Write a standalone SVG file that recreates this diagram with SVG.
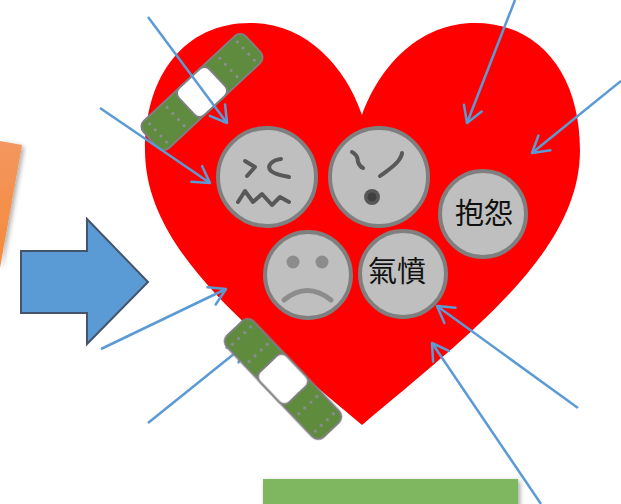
<svg xmlns="http://www.w3.org/2000/svg" width="621" height="504" viewBox="0 0 621 504">
  <style>
    .face { fill: #bfbfbf; stroke: #7f7f7f; stroke-width: 4; }
    .feat { fill: none; stroke: #595959; stroke-width: 4; stroke-linecap: round; stroke-linejoin: round; }
    .sad { fill: none; stroke: #8c8c8c; stroke-width: 5; stroke-linecap: round; }
    .label { font-family: "Noto Sans CJK TC", "Noto Sans CJK SC", sans-serif; font-size: 29px; fill: #111; text-anchor: middle; }
    .conn { fill: none; stroke: #5b9bd5; stroke-width: 2.5; marker-end: url(#vhead); }
    .band { fill: #5e8b3e; stroke: #7f7f7f; stroke-width: 2; }
    .pad { fill: #ffffff; stroke: #7f7f7f; stroke-width: 2; }
    .dot { fill: #8f8c9c; }
  </style>
  <defs>
    <marker id="vhead" markerUnits="userSpaceOnUse" orient="auto" refX="0" refY="0" markerWidth="40" markerHeight="40" viewBox="-20 -20 40 40" overflow="visible">
      <path d="M -16 -9.5 L 0 0 L -16 9.5" fill="none" stroke="#5b9bd5" stroke-width="2.5" stroke-linecap="round" stroke-linejoin="round"/>
    </marker>
    <filter id="soft" x="-10%" y="-10%" width="120%" height="120%">
      <feGaussianBlur stdDeviation="0.7"/>
    </filter>
    <filter id="shade" x="-20%" y="-20%" width="140%" height="160%">
      <feDropShadow dx="2" dy="2" stdDeviation="2.5" flood-color="#000" flood-opacity="0.35"/>
    </filter>
    <linearGradient id="orangeFill" x1="0" y1="0" x2="0" y2="1">
      <stop offset="0" stop-color="#f2975f"/>
      <stop offset="1" stop-color="#f7893a"/>
    </linearGradient>
    <!-- plaster: strip, central pad, two rows of dots on each side -->
    <g id="plaster">
      <rect class="band" x="-70" y="-18.5" width="140" height="37" rx="8"/>
      <rect class="pad" x="-21" y="-18.5" width="42" height="37" rx="7"/>
      <g class="dot">
        <circle cx="-60" cy="-12.5" r="1.5"/><circle cx="-60" cy="-4.2" r="1.5"/><circle cx="-60" cy="4.2" r="1.5"/><circle cx="-60" cy="12.5" r="1.5"/>
        <circle cx="-36" cy="-12.5" r="1.5"/><circle cx="-36" cy="-4.2" r="1.5"/><circle cx="-36" cy="4.2" r="1.5"/><circle cx="-36" cy="12.5" r="1.5"/>
        <circle cx="36" cy="-12.5" r="1.5"/><circle cx="36" cy="-4.2" r="1.5"/><circle cx="36" cy="4.2" r="1.5"/><circle cx="36" cy="12.5" r="1.5"/>
        <circle cx="60" cy="-12.5" r="1.5"/><circle cx="60" cy="-4.2" r="1.5"/><circle cx="60" cy="4.2" r="1.5"/><circle cx="60" cy="12.5" r="1.5"/>
      </g>
    </g>
  </defs>

  <rect width="621" height="504" fill="#ffffff"/>

  <!-- side shapes -->
  <g id="orange-block">
    <polygon points="0,141 22,145 0,268" fill="url(#orangeFill)" filter="url(#shade)"/>
  </g>
  <g id="block-arrow">
    <polygon points="21,251 87,251 87,219 148,282 87,344 87,313 21,313" fill="#5b9bd5" stroke="#44546a" stroke-width="2" stroke-linejoin="miter"/>
  </g>
  <g id="green-bar">
    <rect x="263" y="479" width="255" height="40" fill="#7eb761" filter="url(#shade)"/>
  </g>

  <!-- heart -->
  <g id="heart">
    <path d="M 362 115 C 345 65, 305 23, 250 23 C 185 23, 145 75, 145 150 C 145 250, 250 330, 362 425 C 475 330, 580 250, 580 150 C 580 75, 540 23, 475 23 C 420 23, 380 65, 362 115 Z" fill="#ff0000"/>
  </g>

  <!-- faces -->
  <g id="face-confounded" filter="url(#soft)">
    <circle class="face" cx="267" cy="177" r="49"/>
    <path class="feat" d="M 245 161 L 255 167 L 247 176"/>
    <path class="feat" d="M 281 159 C 272 160, 266 166, 271 171 C 276 175, 284 176, 289 177"/>
    <path class="feat" d="M 238 202 L 245 191 L 253 202 L 262 194 L 272 205 L 280 197 L 289 202"/>
  </g>
  <g id="face-angry" filter="url(#soft)">
    <circle class="face" cx="379" cy="177" r="49"/>
    <path class="feat" d="M 352 152 C 356 154, 358 158, 358 162 C 359 165, 361 167, 363 168"/>
    <path class="feat" d="M 380 176 C 388 170, 395 166, 399 160 C 401 157, 402 155, 402 153"/>
    <circle cx="372" cy="197" r="8" fill="#595959"/>
    <circle cx="372" cy="197" r="4.5" fill="#404040"/>
  </g>
  <g id="face-complain" filter="url(#soft)">
    <circle class="face" cx="483" cy="214" r="43"/>
  </g>
  <text class="label" x="484" y="224">抱怨</text>
  <g id="face-sad" filter="url(#soft)">
    <circle class="face" cx="308" cy="275" r="43"/>
    <circle cx="293" cy="262" r="6.5" fill="#8c8c8c"/>
    <circle cx="322" cy="262" r="6.5" fill="#8c8c8c"/>
    <path class="sad" d="M 284 300 Q 307 281, 331 300"/>
  </g>
  <g id="face-anger" filter="url(#soft)">
    <circle class="face" cx="403" cy="274" r="43"/>
  </g>
  <text class="label" x="397" y="282">氣憤</text>

  <!-- upper plaster -->
  <g id="plaster-top">
    <use href="#plaster" transform="translate(202 92) rotate(-43)"/>
  </g>

  <!-- connectors -->
  <g id="connectors">
    <line class="conn" x1="148" y1="17" x2="227" y2="123"/>
    <line class="conn" x1="100" y1="108" x2="210" y2="183"/>
    <line class="conn" x1="101" y1="349" x2="226" y2="289"/>
    <line class="conn" x1="148" y1="423" x2="245" y2="345"/>
    <line class="conn" x1="515" y1="0" x2="467" y2="123"/>
    <line class="conn" x1="621" y1="81" x2="532" y2="153"/>
    <line class="conn" x1="578" y1="408" x2="437" y2="306"/>
    <line class="conn" x1="541" y1="504" x2="432" y2="343"/>
  </g>

  <!-- lower plaster -->
  <g id="plaster-bottom">
    <use href="#plaster" transform="translate(283 379) rotate(46.4)" filter="url(#soft)"/>
  </g>
</svg>
